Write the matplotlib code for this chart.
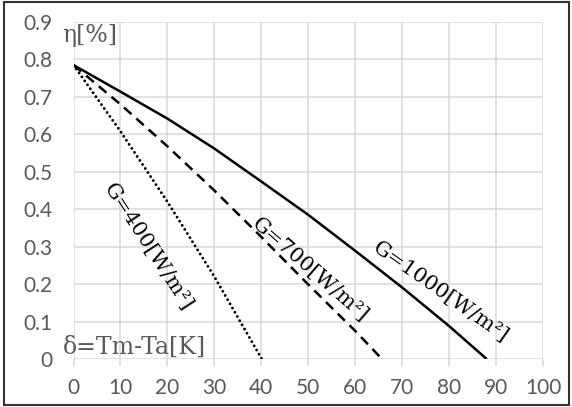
import matplotlib
matplotlib.use("Agg")
import matplotlib.pyplot as plt
from matplotlib.patches import Rectangle

# efficiency curves (delta in K, eta)
x_1000 = [0, 10, 20, 30, 40, 50, 60, 70, 80, 88]
eta_1000 = [0.785, 0.714, 0.642, 0.562, 0.474, 0.385, 0.289, 0.191, 0.088, 0.0]

x_700 = [0, 10, 20, 30, 40, 50, 60, 65.7]
eta_700 = [0.785, 0.680, 0.568, 0.450, 0.326, 0.199, 0.075, 0.0]

x_400 = [0, 10, 20, 30, 40.1]
eta_400 = [0.785, 0.608, 0.420, 0.220, 0.0]

labels = ["G=1000[W/m²]", "G=700[W/m²]", "G=400[W/m²]"]
x_ticks = list(range(0, 101, 10))
y_ticks = [0, 0.1, 0.2, 0.3, 0.4, 0.5, 0.6, 0.7, 0.8, 0.9]
y_tick_labels = ["0", "0.1", "0.2", "0.3", "0.4", "0.5", "0.6", "0.7", "0.8", "0.9"]

W, H = 572, 407
fig = plt.figure(figsize=(W / 100, H / 100), dpi=100)
ax = fig.add_axes([73.5 / W, 1 - 359 / H, (543 - 73.5) / W, (359 - 22) / H])

gray = "#595959"
grid = "#d9d9d9"

ax.plot(x_1000, eta_1000, color="black", lw=1.8, solid_capstyle="butt")
ax.plot(x_700, eta_700, color="black", lw=1.8, linestyle=(0, (4, 2.6)))
ax.plot(x_400, eta_400, color="black", lw=2.1, linestyle=(0, (0.01, 1.65)),
        dash_capstyle="round")

ax.set_xlim(0, 100)
ax.set_ylim(0, 0.9)
ax.set_xticks(x_ticks)
ax.set_yticks(y_ticks)
ax.set_yticklabels(y_tick_labels)
ax.grid(True, color=grid, lw=1.1)
ax.set_axisbelow(True)
for s in ax.spines.values():
    s.set_visible(False)
ax.tick_params(axis="x", length=5, width=1.1, color=grid, pad=9,
               labelsize=15, labelcolor=gray)
ax.tick_params(axis="y", length=0, pad=15, labelsize=15, labelcolor=gray)
for lab in ax.get_xticklabels() + ax.get_yticklabels():
    lab.set_family("Lato")

# curve labels along the lines
ax.text(78.1, 0.179, labels[0], rotation=-35, ha="center", va="center",
        fontsize=15, family="DejaVu Serif", color="black")
ax.text(50.4, 0.237, labels[1], rotation=-41, ha="center", va="center",
        fontsize=15, family="DejaVu Serif", color="black")
ax.text(15.9, 0.298, labels[2], rotation=-57, ha="center", va="center",
        fontsize=15, family="DejaVu Serif", color="black")

# axis titles inside the plot area
ax.text(-2.5, 0.865, "η[%]", ha="left", va="center", fontsize=17,
        family="DejaVu Serif", color=gray, clip_on=False)
ax.text(-2.3, 0.032, "δ=Tm-Ta[K]", ha="left", va="center", fontsize=17,
        family="DejaVu Serif", color=gray, clip_on=False)

# chart border
fig.patches.append(Rectangle((4 / W, 2 / H), (569 - 4) / W, (405 - 2) / H,
                             transform=fig.transFigure, fill=False,
                             edgecolor="#333333", lw=1.5))

fig.savefig("out.png", dpi=100)
